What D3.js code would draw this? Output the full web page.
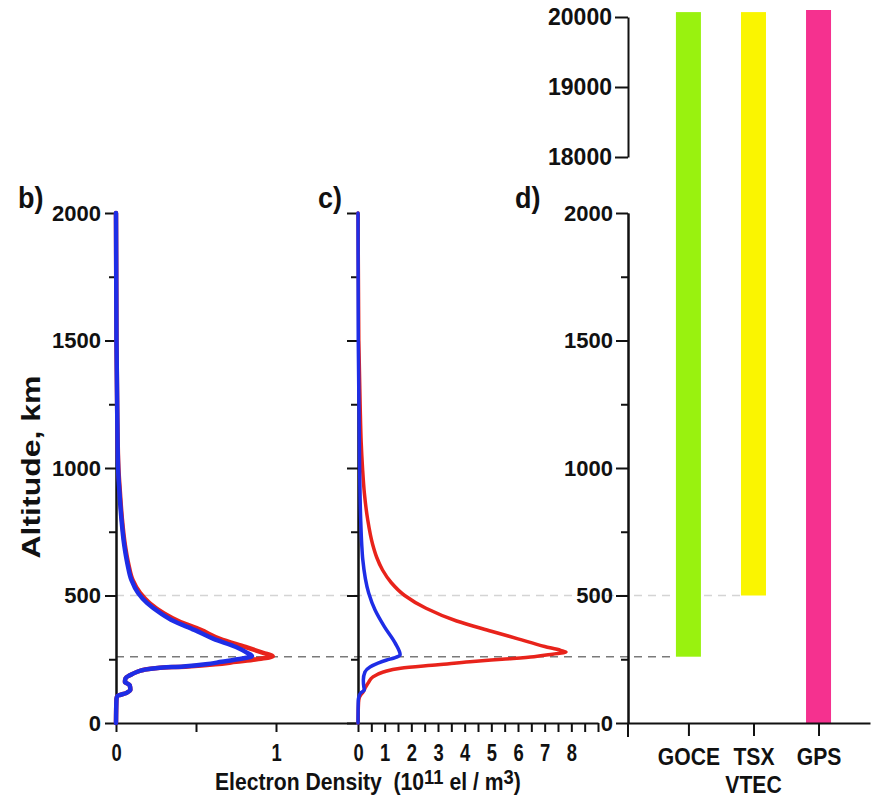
<!DOCTYPE html>
<html>
<head>
<meta charset="utf-8">
<script src="https://cdn.jsdelivr.net/npm/d3@7/dist/d3.min.js"></script>
<style>
    body { margin: 0; background: #ffffff; }
    svg text { font-family: "Liberation Sans", Arial, sans-serif; font-weight: bold; fill: #111111; }
    .axis path, .axis line { stroke: #111111; stroke-width: 2; }
</style>
</head>
<body>
<div id="chart"></div>
<script>

// panel b) altitude grid (km) and electron density (10^11 el/m3)
const altB = [2000, 1500, 1200, 1000, 900, 800, 700, 620, 560, 510, 470, 430, 400, 365, 330, 298, 275, 262, 250, 240, 230, 222, 216, 208, 200, 188, 176, 161, 149, 130, 118, 106, 95, 0];
const redB = [0, 0.003, 0.008, 0.015, 0.025, 0.037, 0.055, 0.078, 0.104, 0.15, 0.21, 0.3, 0.39, 0.53, 0.65, 0.81, 0.92, 0.98, 0.88, 0.75, 0.62, 0.45, 0.26, 0.17, 0.13, 0.09, 0.06, 0.056, 0.085, 0.09, 0.065, 0.01, 0.003, 0];
const blueB = [0, 0.003, 0.008, 0.013, 0.022, 0.034, 0.051, 0.073, 0.097, 0.138, 0.195, 0.28, 0.36, 0.49, 0.61, 0.75, 0.82, 0.85, 0.76, 0.66, 0.56, 0.42, 0.26, 0.17, 0.13, 0.09, 0.06, 0.056, 0.085, 0.09, 0.065, 0.01, 0.003, 0];

// panel c)
const altCRed = [2000, 1500, 1250, 1100, 1000, 900, 800, 700, 650, 600, 550, 500, 450, 400, 360, 330, 300, 285, 278, 270, 260, 250, 240, 228, 215, 200, 180, 160, 140, 120, 110, 100, 80, 0];
const redC = [0, 0.03, 0.08, 0.12, 0.17, 0.24, 0.36, 0.55, 0.7, 0.92, 1.25, 1.75, 2.55, 3.7, 5.0, 6.0, 7.0, 7.6, 7.8, 7.3, 6.6, 5.4, 4.2, 3.0, 1.6, 0.95, 0.55, 0.4, 0.28, 0.18, 0.1, 0.05, 0.02, 0];
const altCBlue = [2000, 1500, 1000, 800, 700, 640, 510, 443, 376, 314, 267, 255, 247, 235, 220, 200, 169, 140, 129, 118, 105, 90, 0];
const blueC = [0, 0.01, 0.06, 0.1, 0.14, 0.18, 0.4, 0.64, 1.0, 1.39, 1.58, 1.35, 1.08, 0.75, 0.45, 0.26, 0.2, 0.22, 0.24, 0.1, 0.04, 0.01, 0];

// panel d) altitude coverage of each observation
const sensors = ['GOCE', 'TSX', 'GPS'];
const sensorBottom = [260, 500, 0];
const sensorTop = [20070, 20070, 20100];
const sensorColors = ['#99f20f', '#faf500', '#f5318f'];

// reference altitudes (dashed)
const refAltitudes = [260, 500];

// tick labels
const altMajorTicks = [0, 500, 1000, 1500, 2000];
const altMinorTicks = [250, 750, 1250, 1750];
const altUpperTicks = [18000, 19000, 20000];
const densTicksB = [0, 0.5, 1];
const densTicksC = d3.range(0, 9.01, 0.5);

const width = 876, height = 807;


function createSVG(containerId, w, h) {

    try {

        let svg = d3.select(containerId)
            .append('svg')
            .attr('width', w)
            .attr('height', h);
        return svg;

    } catch (error) {

        console.log('Function: createSVG. Error: ' + error);
        return null;
    }
}

function drawAltitudeAxis(svg, scale, x, showLabels) {

    try {

        svg.append('g')
            .attr('class', 'axis')
            .attr('transform', 'translate(' + x + ',0)')
            .call(d3.axisLeft(scale).tickValues(altMinorTicks).tickSize(7).tickSizeOuter(0).tickFormat(''));

        let gMajor = svg.append('g')
            .attr('class', 'axis')
            .attr('transform', 'translate(' + x + ',0)')
            .call(d3.axisLeft(scale).tickValues(altMajorTicks).tickSize(11).tickSizeOuter(0).tickPadding(4)
                .tickFormat(showLabels ? d3.format('d') : ''));

        gMajor.selectAll('text').style('font-size', '22px');
        svg.selectAll('.axis .domain').attr('stroke-width', 2.2);

    } catch (error) {

        console.log('Function: drawAltitudeAxis. Error: ' + error);
    }
}

function drawDensityAxis(svg, scale, ticks) {

    try {

        let g = svg.append('g')
            .attr('class', 'axis')
            .attr('transform', 'translate(0,723)')
            .call(d3.axisBottom(scale).tickValues(ticks).tickSize(9).tickSizeOuter(0).tickPadding(13)
                .tickFormat(d => (d % 1 === 0 && d < 9) ? d : ''));

        g.selectAll('text')
            .style('font-size', '23px')
            .attr('transform', 'scale(0.8,1)');

    } catch (error) {

        console.log('Function: drawDensityAxis. Error: ' + error);
    }
}

function drawProfile(svg, alts, values, xScale, yScale, color, lineWidth) {

    try {

        let line = d3.line()
            .x(d => xScale(d[1]))
            .y(d => yScale(d[0]))
            .curve(d3.curveMonotoneY);

        svg.append('path')
            .datum(d3.zip(alts, values))
            .attr('d', line)
            .attr('fill', 'none')
            .attr('stroke', color)
            .attr('stroke-width', lineWidth)
            .attr('stroke-linejoin', 'round')
            .attr('stroke-linecap', 'round');

    } catch (error) {

        console.log('Function: drawProfile. Error: ' + error);
    }
}

function drawPanelLabel(svg, x, y, label) {

    svg.append('text')
        .attr('transform', 'translate(' + x + ',' + y + ') scale(0.9,1)')
        .style('font-size', '30px')
        .text(label);
}


let svg = createSVG('#chart', width, height);

let yAlt = d3.scaleLinear().domain([0, 2000]).range([723, 213]);
let xB = d3.scaleLinear().domain([0, 1.5]).range([116, 356]);
let xC = d3.scaleLinear().domain([0, 9]).range([358, 598]);

// broken altitude scale of panel d (0-2000 then 18000-20000)
let yD = d3.scaleLinear().domain([0, 2000, 18000, 20000]).range([723, 213, 157, 17]);
let yDUpper = d3.scaleLinear().domain([18000, 20000]).range([157, 17]);
let xD = d3.scalePoint().domain(sensors).range([628, 870]).padding(0.86).align(0.54);
let barWidth = 25;

// dashed reference lines
let refColors = ['#7a7a7a', '#d4d4d4'];
svg.selectAll('.refline')
    .data(refAltitudes).enter()
    .append('line')
    .attr('class', 'refline')
    .attr('x1', xB(0))
    .attr('x2', (d, i) => xD(sensors[i]) - barWidth / 2)
    .attr('y1', d => yAlt(d))
    .attr('y2', d => yAlt(d))
    .attr('stroke', (d, i) => refColors[i])
    .attr('stroke-width', 1.6)
    .attr('stroke-dasharray', '8,6');

// axes of b) and c)
drawAltitudeAxis(svg, yAlt, xB(0), true);
drawAltitudeAxis(svg, yAlt, xC(0), false);
drawDensityAxis(svg, xB, densTicksB);
drawDensityAxis(svg, xC, densTicksC);

// profiles
drawProfile(svg, altB, redB, xB, yAlt, '#e8231b', 4.5);
drawProfile(svg, altB, blueB, xB, yAlt, '#1e2de6', 4.5);
drawProfile(svg, altCRed, redC, xC, yAlt, '#e8231b', 3.5);
drawProfile(svg, altCBlue, blueC, xC, yAlt, '#1e2de6', 3.5);

// panel d) bars
svg.selectAll('.bar')
    .data(sensors).enter()
    .append('rect')
    .attr('class', 'bar')
    .attr('x', d => xD(d) - barWidth / 2)
    .attr('width', barWidth)
    .attr('y', (d, i) => yD(sensorTop[i]))
    .attr('height', (d, i) => yD(sensorBottom[i]) - yD(sensorTop[i]))
    .attr('fill', (d, i) => sensorColors[i]);

// panel d) axes
svg.append('g')
    .attr('class', 'axis')
    .attr('transform', 'translate(628,0)')
    .call(d3.axisLeft(yAlt).tickValues(altMinorTicks).tickSize(7).tickSizeOuter(0).tickFormat(''));

let dLower = svg.append('g')
    .attr('class', 'axis')
    .attr('transform', 'translate(628,0)')
    .call(d3.axisLeft(yAlt).tickValues(altMajorTicks).tickSize(12).tickSizeOuter(0).tickPadding(3).tickFormat(d3.format('d')));
dLower.selectAll('text').style('font-size', '22px');

let dUpper = svg.append('g')
    .attr('class', 'axis')
    .attr('transform', 'translate(628,0)')
    .call(d3.axisLeft(yDUpper).tickValues(altUpperTicks).tickSize(13).tickSizeOuter(0).tickPadding(3).tickFormat(d3.format('d')));
dUpper.selectAll('text').style('font-size', '23px');

let dBottom = svg.append('g')
    .attr('class', 'axis')
    .attr('transform', 'translate(0,723)')
    .call(d3.axisBottom(xD).tickSize(13).tickSizeOuter(0).tickPadding(12));
dBottom.selectAll('text')
    .style('font-size', '24px')
    .attr('transform', 'scale(0.88,1)');

svg.append('line')
    .attr('x1', 628).attr('x2', 628)
    .attr('y1', 723).attr('y2', 737)
    .attr('stroke', '#111').attr('stroke-width', 2);

svg.append('text')
    .attr('transform', 'translate(' + xD('TSX') + ',793) scale(0.88,1)')
    .attr('text-anchor', 'middle')
    .style('font-size', '24px')
    .text('VTEC');

// titles
svg.append('text')
    .attr('transform', 'translate(40,467) rotate(-90) scale(1,0.79)')
    .attr('text-anchor', 'middle')
    .style('font-size', '32px')
    .text('Altitude, km');

let xTitle = svg.append('text')
    .attr('transform', 'translate(215,790) scale(0.92,1)')
    .style('font-size', '23px');
xTitle.append('tspan').text('Electron Density\u00a0\u00a0(10');
xTitle.append('tspan').attr('dy', -6).style('font-size', '20px').text('11');
xTitle.append('tspan').attr('dy', 6).text(' el / m');
xTitle.append('tspan').attr('dy', -6).style('font-size', '20px').text('3');
xTitle.append('tspan').attr('dy', 6).text(')');

drawPanelLabel(svg, 18, 208, 'b)');
drawPanelLabel(svg, 318, 208, 'c)');
drawPanelLabel(svg, 515, 208, 'd)');

</script>
</body>
</html>
